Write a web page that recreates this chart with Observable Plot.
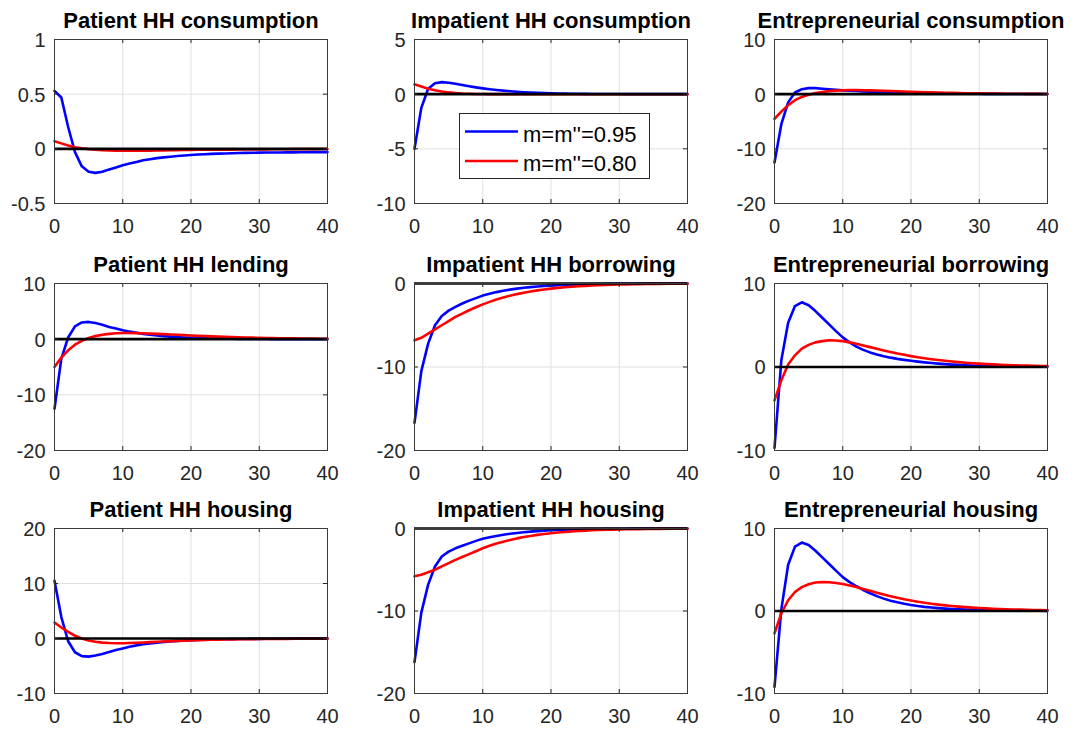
<!DOCTYPE html>
<html>
<head>
<meta charset="utf-8">
<script src="https://cdn.jsdelivr.net/npm/d3@7"></script>
<script src="https://cdn.jsdelivr.net/npm/@observablehq/plot@0.6"></script>
<style>
  body { margin: 0; background: #ffffff; }
  #chart { position: relative; width: 1080px; height: 730px; overflow: hidden; font-family: "Liberation Sans", Arial, sans-serif; }
  #chart > svg { position: absolute; overflow: visible; }
  #legend { position: absolute; left: 459px; top: 113px; z-index: 5; }
</style>
</head>
<body>
<div id="chart"></div>
<script>
// ---------------- DATA ----------------
const periods = d3.range(0, 41); // quarters 0..40
const seriesLabels = ["m=m''=0.95", "m=m''=0.80"];
const xTickValues = [0, 10, 20, 30, 40];

const titles = [
  "Patient HH consumption", "Impatient HH consumption", "Entrepreneurial consumption",
  "Patient HH lending", "Impatient HH borrowing", "Entrepreneurial borrowing",
  "Patient HH housing", "Impatient HH housing", "Entrepreneurial housing"
];

const yTicks = [
  [-0.5, 0, 0.5, 1], [-10, -5, 0, 5], [-20, -10, 0, 10],
  [-20, -10, 0, 10], [-20, -10, 0], [-10, 0, 10],
  [-10, 0, 10, 20], [-20, -10, 0], [-10, 0, 10]
];

// Patient HH consumption
const patientCons95 = [0.53,
  0.47,0.20,-0.03,-0.16,-0.21,-0.22,-0.21,-0.19,-0.17,-0.15,
  -0.135,-0.12,-0.105,-0.095,-0.085,-0.078,-0.072,-0.066,-0.061,-0.056,
  -0.052,-0.049,-0.046,-0.044,-0.042,-0.040,-0.038,-0.037,-0.036,-0.035,
  -0.034,-0.033,-0.033,-0.032,-0.032,-0.031,-0.031,-0.030,-0.030,-0.030];
const patientCons80 = [0.07,
  0.05,0.03,0.015,0.005,-0.003,-0.008,-0.012,-0.015,-0.017,-0.018,
  -0.018,-0.018,-0.017,-0.016,-0.015,-0.014,-0.013,-0.012,-0.011,-0.010,
  -0.009,-0.009,-0.008,-0.008,-0.007,-0.007,-0.006,-0.006,-0.005,-0.005,
  -0.005,-0.004,-0.004,-0.004,-0.003,-0.003,-0.003,-0.003,-0.002,-0.002];

// Impatient HH consumption
const impatientCons95 = [-5.0,
  -1.25,0.5,1.0,1.1,1.05,0.95,0.83,0.72,0.62,0.53,
  0.45,0.38,0.32,0.27,0.22,0.18,0.15,0.12,0.10,0.08,
  0.065,0.052,0.042,0.034,0.027,0.022,0.018,0.014,0.011,0.009,
  0.007,0.006,0.005,0.004,0.003,0.003,0.002,0.002,0.001,0.001];
const impatientCons80 = [0.9,
  0.7,0.5,0.35,0.24,0.16,0.10,0.06,0.035,0.02,0.01,
  0.005,0.002,0.0,-0.002,-0.003,-0.003,-0.003,-0.003,-0.003,-0.003,
  -0.002,-0.002,-0.002,-0.002,-0.002,-0.002,-0.002,-0.002,-0.002,-0.002,
  -0.001,-0.001,-0.001,-0.001,-0.001,-0.001,-0.001,-0.001,-0.001,-0.001];

// Entrepreneurial consumption
const entreCons95 = [-12.5,
  -5.5,-1.5,0.3,0.9,1.1,1.1,1.0,0.9,0.8,0.7,
  0.63,0.57,0.51,0.46,0.41,0.37,0.33,0.29,0.26,0.23,
  0.20,0.18,0.16,0.14,0.12,0.11,0.095,0.085,0.075,0.065,
  0.057,0.05,0.044,0.038,0.033,0.029,0.025,0.022,0.019,0.017];
const entreCons80 = [-4.5,
  -3.2,-2.0,-1.1,-0.5,-0.1,0.2,0.4,0.55,0.65,0.72,
  0.75,0.75,0.73,0.70,0.66,0.62,0.57,0.52,0.48,0.43,
  0.39,0.35,0.32,0.29,0.26,0.23,0.20,0.18,0.16,0.14,
  0.125,0.11,0.10,0.09,0.08,0.07,0.062,0.055,0.049,0.043];

// Patient HH lending
const patientLend95 = [-12.5,
  -3.5,0.3,2.3,3.0,3.1,2.9,2.6,2.2,1.9,1.6,
  1.35,1.15,0.95,0.8,0.65,0.55,0.45,0.37,0.30,0.25,
  0.20,0.16,0.13,0.10,0.08,0.065,0.05,0.04,0.03,0.025,
  0.02,0.016,0.013,0.01,0.008,0.006,0.005,0.004,0.003,0.002];
const patientLend80 = [-5.0,
  -3.3,-2.0,-1.0,-0.3,0.2,0.55,0.8,0.95,1.05,1.1,
  1.1,1.08,1.05,1.0,0.95,0.9,0.85,0.78,0.72,0.66,
  0.60,0.55,0.50,0.45,0.41,0.37,0.33,0.30,0.27,0.24,
  0.21,0.19,0.17,0.15,0.135,0.12,0.105,0.095,0.085,0.075];

// Impatient HH borrowing
const impatientBorr95 = [-16.7,
  -10.5,-7.2,-5.0,-3.9,-3.25,-2.8,-2.4,-2.05,-1.75,-1.45,
  -1.22,-1.03,-0.87,-0.73,-0.61,-0.51,-0.43,-0.36,-0.30,-0.25,
  -0.21,-0.17,-0.14,-0.12,-0.10,-0.08,-0.065,-0.055,-0.045,-0.037,
  -0.03,-0.025,-0.02,-0.016,-0.013,-0.011,-0.009,-0.007,-0.006,-0.005];
const impatientBorr80 = [-6.8,
  -6.5,-6.0,-5.5,-5.0,-4.5,-4.0,-3.6,-3.2,-2.85,-2.5,
  -2.2,-1.92,-1.68,-1.46,-1.27,-1.1,-0.95,-0.82,-0.71,-0.61,
  -0.52,-0.45,-0.38,-0.33,-0.28,-0.24,-0.20,-0.17,-0.145,-0.12,
  -0.10,-0.085,-0.072,-0.06,-0.05,-0.042,-0.035,-0.03,-0.025,-0.021];

// Entrepreneurial borrowing
const entreBorr95 = [-9.7,
  0.8,5.3,7.3,7.75,7.4,6.7,5.9,5.1,4.3,3.55,
  2.95,2.45,2.05,1.75,1.5,1.3,1.12,0.97,0.85,0.74,
  0.64,0.55,0.47,0.40,0.34,0.29,0.25,0.21,0.18,0.15,
  0.13,0.11,0.09,0.08,0.065,0.055,0.047,0.04,0.034,0.03];
const entreBorr80 = [-4.0,
  -1.6,0.3,1.4,2.2,2.65,2.95,3.1,3.2,3.18,3.1,
  2.95,2.78,2.58,2.38,2.18,1.98,1.8,1.62,1.46,1.3,
  1.16,1.04,0.93,0.83,0.74,0.66,0.58,0.51,0.45,0.40,
  0.35,0.31,0.27,0.24,0.21,0.185,0.16,0.14,0.125,0.11];

// Patient HH housing
const patientHouse95 = [10.5,
  3.9,-0.5,-2.5,-3.2,-3.3,-3.1,-2.8,-2.45,-2.1,-1.8,
  -1.5,-1.25,-1.05,-0.9,-0.75,-0.62,-0.52,-0.43,-0.36,-0.30,
  -0.25,-0.21,-0.18,-0.15,-0.13,-0.11,-0.095,-0.08,-0.07,-0.06,
  -0.05,-0.045,-0.04,-0.035,-0.03,-0.027,-0.024,-0.021,-0.019,-0.017];
const patientHouse80 = [2.9,
  2.0,1.2,0.5,0.0,-0.35,-0.6,-0.75,-0.82,-0.85,-0.85,
  -0.82,-0.78,-0.72,-0.66,-0.6,-0.54,-0.48,-0.43,-0.38,-0.34,
  -0.30,-0.27,-0.24,-0.21,-0.19,-0.17,-0.15,-0.13,-0.115,-0.10,
  -0.09,-0.08,-0.07,-0.062,-0.055,-0.048,-0.042,-0.037,-0.033,-0.03];

// Impatient HH housing
const impatientHouse95 = [-16.2,
  -10.2,-6.8,-4.6,-3.4,-2.8,-2.4,-2.1,-1.8,-1.5,-1.25,
  -1.05,-0.9,-0.76,-0.64,-0.54,-0.45,-0.38,-0.32,-0.27,-0.22,
  -0.18,-0.15,-0.12,-0.10,-0.08,-0.065,-0.055,-0.045,-0.037,-0.03,
  -0.025,-0.02,-0.016,-0.013,-0.011,-0.009,-0.007,-0.006,-0.005,-0.004];
const impatientHouse80 = [-5.8,
  -5.6,-5.3,-5.0,-4.6,-4.2,-3.8,-3.45,-3.1,-2.75,-2.4,
  -2.1,-1.83,-1.6,-1.39,-1.2,-1.04,-0.9,-0.77,-0.66,-0.57,
  -0.49,-0.42,-0.36,-0.30,-0.26,-0.22,-0.19,-0.16,-0.135,-0.115,
  -0.10,-0.085,-0.07,-0.06,-0.05,-0.043,-0.036,-0.03,-0.026,-0.022];

// Entrepreneurial housing
const entreHouse95 = [-9.2,
  0.2,5.6,7.8,8.3,8.0,7.3,6.5,5.7,4.9,4.1,
  3.5,3.0,2.55,2.15,1.8,1.5,1.25,1.05,0.88,0.73,
  0.60,0.50,0.42,0.35,0.29,0.24,0.20,0.17,0.14,0.12,
  0.10,0.085,0.07,0.06,0.05,0.042,0.035,0.03,0.025,0.02];
const entreHouse80 = [-2.7,
  -0.3,1.3,2.3,2.9,3.25,3.45,3.5,3.48,3.4,3.28,
  3.1,2.9,2.68,2.45,2.22,2.0,1.8,1.61,1.43,1.27,
  1.12,0.99,0.87,0.77,0.68,0.60,0.53,0.47,0.41,0.36,
  0.32,0.28,0.25,0.22,0.19,0.17,0.15,0.13,0.115,0.10];

const blueSeries = [patientCons95, impatientCons95, entreCons95, patientLend95, impatientBorr95, entreBorr95, patientHouse95, impatientHouse95, entreHouse95];
const redSeries = [patientCons80, impatientCons80, entreCons80, patientLend80, impatientBorr80, entreBorr80, patientHouse80, impatientHouse80, entreHouse80];

// ---------------- LAYOUT ----------------
const colLeft = [54, 414, 774];
const rowTop = [39, 283, 528];
const plotW = 273;
const rowH = [164, 167, 165];
const ML = 60, MR = 24, MT = 42, MB = 40;
const FONT = '"Liberation Sans", Arial, Helvetica, sans-serif';
const BLUE = "#0000ff", RED = "#ff0000";

const chart = document.getElementById("chart");

titles.forEach((title, i) => {
  const r = Math.floor(i / 3), c = i % 3;
  const H = rowH[r];
  const ticks = yTicks[i];
  const dom = [ticks[0], ticks[ticks.length - 1]];
  const d95 = periods.map((t, k) => ({t, v: blueSeries[i][k]}));
  const d80 = periods.map((t, k) => ({t, v: redSeries[i][k]}));

  const svg = Plot.plot({
    width: plotW + ML + MR,
    height: H + MT + MB,
    marginLeft: ML, marginRight: MR, marginTop: MT, marginBottom: MB,
    x: {domain: [0, 40], label: null},
    y: {domain: dom, label: null},
    style: {fontSize: "20px", fontFamily: FONT, color: "#262626", background: "transparent", overflow: "visible"},
    marks: [
      Plot.gridX(xTickValues, {stroke: "#e0e0e0", strokeOpacity: 1, strokeWidth: 1}),
      Plot.gridY(ticks, {stroke: "#e0e0e0", strokeOpacity: 1, strokeWidth: 1}),
      Plot.line(d95, {x: "t", y: "v", stroke: BLUE, strokeWidth: 2.6}),
      Plot.line(d80, {x: "t", y: "v", stroke: RED, strokeWidth: 2.6}),
      Plot.ruleY([0], {stroke: "#000", strokeWidth: 2.6}),
      Plot.tickX(xTickValues, {x: d => d, insetTop: H - 4, stroke: "#262626"}),
      Plot.tickX(xTickValues, {x: d => d, insetBottom: H - 4, stroke: "#262626"}),
      Plot.tickY(ticks, {y: d => d, insetRight: plotW - 4, stroke: "#262626"}),
      Plot.tickY(ticks, {y: d => d, insetLeft: plotW - 4, stroke: "#262626"}),
      Plot.frame({stroke: "#3a3a3a", strokeWidth: 1}),
      Plot.axisX(xTickValues, {tickSize: 0, tickPadding: 15, tickFormat: d => String(d), fill: "#262626"}),
      Plot.axisY(ticks, {tickSize: 0, tickPadding: 9, dy: 1, tickFormat: d => String(d), fill: "#262626"}),
      Plot.text([title], {frameAnchor: "top", dy: -12, lineAnchor: "bottom", text: d => d,
        fontSize: 22, fontWeight: "bold", fill: "#000"})
    ]
  });
  svg.style.left = (colLeft[c] - ML) + "px";
  svg.style.top = (rowTop[r] - MT) + "px";
  chart.appendChild(svg);
});

// ---------------- LEGEND ----------------
const lg = d3.select(chart).append("svg")
  .attr("id", "legend")
  .attr("width", 191).attr("height", 66)
  .style("position", "absolute").style("left", "459px").style("top", "113px").style("overflow", "visible");
lg.append("rect").attr("x", 0.5).attr("y", 0.5).attr("width", 190).attr("height", 65)
  .attr("fill", "#fff").attr("stroke", "#262626").attr("stroke-width", 1);
const legendColors = [BLUE, RED];
seriesLabels.forEach((lab, k) => {
  const yy = 18.5 + k * 29.5;
  lg.append("line").attr("x1", 6).attr("x2", 59).attr("y1", yy).attr("y2", yy)
    .attr("stroke", legendColors[k]).attr("stroke-width", 2.6);
  lg.append("text").attr("x", 64).attr("y", yy + 10).text(lab)
    .attr("font-family", FONT).attr("font-size", 22).attr("fill", "#000");
});
</script>
</body>
</html>
